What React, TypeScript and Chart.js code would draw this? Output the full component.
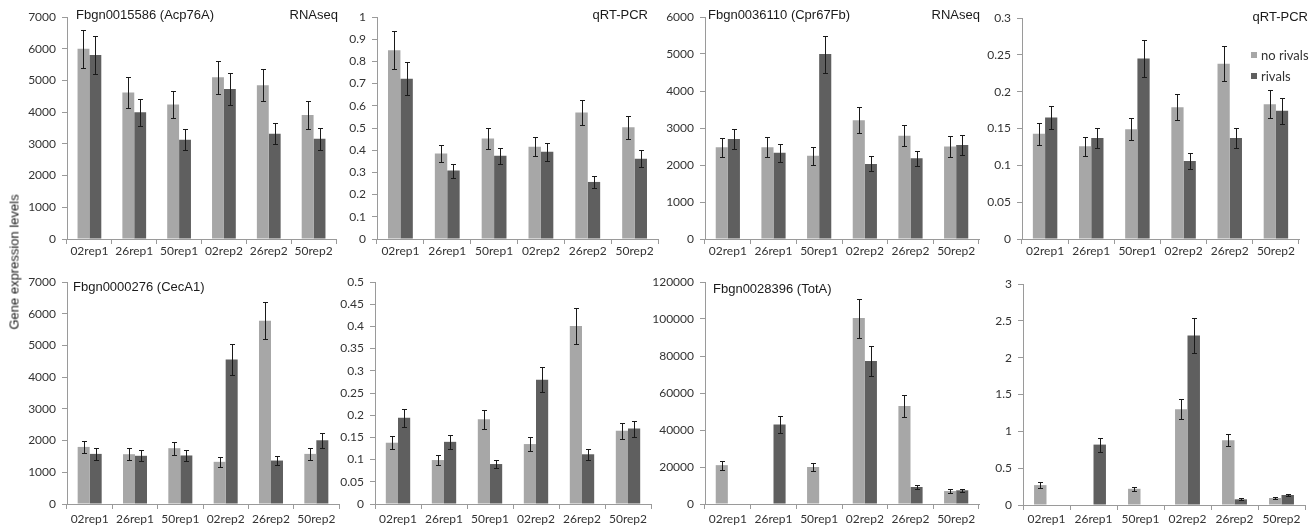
import React, { useEffect, useRef } from 'react';
import { Chart, registerables } from 'chart.js';

Chart.register(...registerables);

// ---------- DATA ----------
const categories = ['02rep1', '26rep1', '50rep1', '02rep2', '26rep2', '50rep2'];
const seriesNames = ['no rivals', 'rivals'];

// Fbgn0015586 (Acp76A) RNAseq
const acpRnaNoRivals = [6000, 4620, 4240, 5100, 4850, 3910];
const acpRnaNoRivalsErr = [600, 480, 440, 520, 500, 430];
const acpRnaRivals = [5800, 4000, 3130, 4730, 3320, 3160];
const acpRnaRivalsErr = [600, 430, 330, 490, 340, 345];

// Acp76A qRT-PCR
const acpPcrNoRivals = [0.85, 0.385, 0.453, 0.415, 0.57, 0.503];
const acpPcrNoRivalsErr = [0.085, 0.04, 0.047, 0.043, 0.058, 0.053];
const acpPcrRivals = [0.722, 0.308, 0.375, 0.393, 0.257, 0.362];
const acpPcrRivalsErr = [0.075, 0.032, 0.037, 0.04, 0.028, 0.037];

// Fbgn0036110 (Cpr67Fb) RNAseq
const cprRnaNoRivals = [2480, 2480, 2250, 3210, 2790, 2500];
const cprRnaNoRivalsErr = [260, 270, 240, 350, 280, 280];
const cprRnaRivals = [2700, 2330, 5000, 2030, 2180, 2540];
const cprRnaRivalsErr = [270, 240, 500, 200, 210, 260];

// Cpr67Fb qRT-PCR
const cprPcrNoRivals = [0.143, 0.126, 0.149, 0.179, 0.238, 0.183];
const cprPcrNoRivalsErr = [0.015, 0.013, 0.015, 0.018, 0.0235, 0.019];
const cprPcrRivals = [0.165, 0.137, 0.245, 0.106, 0.137, 0.174];
const cprPcrRivalsErr = [0.016, 0.014, 0.025, 0.011, 0.013, 0.018];

// Fbgn0000276 (CecA1) RNAseq
const cecRnaNoRivals = [1800, 1570, 1760, 1330, 5780, 1580];
const cecRnaNoRivalsErr = [180, 190, 200, 150, 590, 190];
const cecRnaRivals = [1580, 1520, 1530, 4560, 1370, 2010];
const cecRnaRivalsErr = [200, 170, 160, 480, 140, 230];

// CecA1 qRT-PCR
const cecPcrNoRivals = [0.138, 0.099, 0.191, 0.135, 0.401, 0.165];
const cecPcrNoRivalsErr = [0.015, 0.012, 0.021, 0.016, 0.041, 0.018];
const cecPcrRivals = [0.194, 0.14, 0.09, 0.28, 0.112, 0.17];
const cecPcrRivalsErr = [0.02, 0.015, 0.01, 0.028, 0.013, 0.018];

// Fbgn0028396 (TotA) RNAseq
const totRnaNoRivals = [21000, null, 20000, 100500, 53000, 7000];
const totRnaNoRivalsErr = [2400, 0, 2300, 10500, 6100, 900];
const totRnaRivals = [null, 43000, null, 77300, 9200, 7400];
const totRnaRivalsErr = [0, 4500, 0, 8100, 1300, 900];

// TotA qRT-PCR
const totPcrNoRivals = [0.27, null, 0.22, 1.3, 0.88, 0.095];
const totPcrNoRivalsErr = [0.04, 0, 0.03, 0.135, 0.085, 0.015];
const totPcrRivals = [null, 0.82, null, 2.3, 0.077, 0.136];
const totPcrRivalsErr = [0, 0.095, 0, 0.24, 0.013, 0.018];

// ---------- STYLE ----------
const LIGHT = '#a7a7a7';
const DARK = '#5f5f5f';
const AXIS = '#9a9a9a';
const TICK = '#333333';
const TEXT = '#1a1a1a';
const Y_W = 60;
const X_H = 30;
const PAD_TOP = 17;

type TitleSpec = { text: string; dx: number; dy: number };
type PanelSpec = {
  area: [number, number, number, number];
  padRight: number;
  yMax: number;
  yStep: number;
  light: (number | null)[];
  lightErr: number[];
  dark: (number | null)[];
  darkErr: number[];
  labelPad: number;
  titleL?: TitleSpec;
  titleR?: TitleSpec;
  legend?: boolean;
};

const panels: PanelSpec[] = [
  {
    area: [67, 17, 336, 239], padRight: 4, yMax: 7000, yStep: 1000,
    light: acpRnaNoRivals, lightErr: acpRnaNoRivalsErr, dark: acpRnaRivals, darkErr: acpRnaRivalsErr,
    labelPad: 0,
    titleL: { text: 'Fbgn0015586 (Acp76A)', dx: 9, dy: -2 },
    titleR: { text: 'RNAseq', dx: 2, dy: -2 },
  },
  {
    area: [377, 17, 658, 239], padRight: 2, yMax: 1, yStep: 0.1,
    light: acpPcrNoRivals, lightErr: acpPcrNoRivalsErr, dark: acpPcrRivals, darkErr: acpPcrRivalsErr,
    labelPad: 0,
    titleR: { text: 'qRT-PCR', dx: -10, dy: -2 },
  },
  {
    area: [705, 17, 979, 239], padRight: 3, yMax: 6000, yStep: 1000,
    light: cprRnaNoRivals, lightErr: cprRnaNoRivalsErr, dark: cprRnaRivals, darkErr: cprRnaRivalsErr,
    labelPad: 0,
    titleL: { text: 'Fbgn0036110 (Cpr67Fb)', dx: 3, dy: -2 },
    titleR: { text: 'RNAseq', dx: 1, dy: -2 },
  },
  {
    area: [1022, 18, 1299, 239], padRight: 17, yMax: 0.3, yStep: 0.05,
    light: cprPcrNoRivals, lightErr: cprPcrNoRivalsErr, dark: cprPcrRivals, darkErr: cprPcrRivalsErr,
    labelPad: 0,
    titleR: { text: 'qRT-PCR', dx: 9, dy: -1 },
    legend: true,
  },
  {
    area: [67, 282, 339, 504], padRight: 3, yMax: 7000, yStep: 1000,
    light: cecRnaNoRivals, lightErr: cecRnaNoRivalsErr, dark: cecRnaRivals, darkErr: cecRnaRivalsErr,
    labelPad: 3,
    titleL: { text: 'Fbgn0000276 (CecA1)', dx: 6, dy: 5 },
  },
  {
    area: [375, 282, 651, 504], padRight: 3, yMax: 0.5, yStep: 0.05,
    light: cecPcrNoRivals, lightErr: cecPcrNoRivalsErr, dark: cecPcrRivals, darkErr: cecPcrRivalsErr,
    labelPad: 3,
  },
  {
    area: [705, 282, 979, 504], padRight: 3, yMax: 120000, yStep: 20000,
    light: totRnaNoRivals, lightErr: totRnaNoRivalsErr, dark: totRnaRivals, darkErr: totRnaRivalsErr,
    labelPad: 3,
    titleL: { text: 'Fbgn0028396 (TotA)', dx: 8, dy: 7 },
  },
  {
    area: [1023, 284, 1305, 505], padRight: 5, yMax: 3, yStep: 0.5,
    light: totPcrNoRivals, lightErr: totPcrNoRivalsErr, dark: totPcrRivals, darkErr: totPcrRivalsErr,
    labelPad: 2,
  },
];

const overlayPlugin = {
  id: 'overlay',
  afterDatasetsDraw(chart: any) {
    const ctx = chart.ctx;
    const y = chart.scales.y;
    ctx.save();
    ctx.strokeStyle = '#1a1a1a';
    ctx.lineWidth = 1;
    chart.data.datasets.forEach((ds: any, di: number) => {
      const meta = chart.getDatasetMeta(di);
      meta.data.forEach((el: any, i: number) => {
        const v = ds.data[i];
        if (v == null) return;
        const e = ds.errors[i];
        const top = Math.round(y.getPixelForValue(v + e)) + 0.5;
        const bot = Math.round(y.getPixelForValue(Math.max(v - e, 0))) + 0.5;
        const x = Math.round(el.x) + 0.5;
        ctx.beginPath();
        ctx.moveTo(x, top);
        ctx.lineTo(x, bot);
        ctx.moveTo(x - 2.5, top);
        ctx.lineTo(x + 2.5, top);
        ctx.moveTo(x - 2.5, bot);
        ctx.lineTo(x + 2.5, bot);
        ctx.stroke();
      });
    });
    ctx.restore();
  },
  afterDraw(chart: any, _args: any, opts: any) {
    const ctx = chart.ctx;
    const a = chart.chartArea;
    ctx.save();
    ctx.fillStyle = TEXT;
    ctx.font = '13px "Liberation Sans", Arial, sans-serif';
    ctx.textBaseline = 'middle';
    if (opts.titleL) {
      ctx.textAlign = 'left';
      ctx.fillText(opts.titleL.text, a.left + opts.titleL.dx, a.top + opts.titleL.dy);
    }
    if (opts.titleR) {
      ctx.textAlign = 'right';
      ctx.fillText(opts.titleR.text, a.right + opts.titleR.dx, a.top + opts.titleR.dy);
    }
    if (opts.legend) {
      const colors = [LIGHT, DARK];
      ctx.font = '13px Lato, sans-serif';
      ctx.textAlign = 'left';
      seriesNames.forEach((name, i) => {
        const sx = a.right - 48;
        const sy = a.top + 34 + i * 21;
        ctx.fillStyle = colors[i];
        ctx.fillRect(sx, sy, 6, 6);
        ctx.fillStyle = '#333333';
        ctx.fillText(name, sx + 10, sy + 3.5);
      });
    }
    ctx.restore();
  },
};

const fmt = (v: number) => String(Math.round(v * 10000) / 10000);

function PanelChart({ spec }: { spec: PanelSpec }) {
  const ref = useRef<HTMLCanvasElement>(null);
  const [l, t, r, b] = spec.area;
  const left = l - Y_W;
  const top = t - PAD_TOP;
  const width = Y_W + (r - l) + spec.padRight;
  const height = PAD_TOP + (b - t) + X_H;

  useEffect(() => {
    if (!ref.current) return;
    const chart = new Chart(ref.current, {
      type: 'bar',
      data: {
        labels: categories,
        datasets: [
          {
            label: seriesNames[0],
            data: spec.light,
            errors: spec.lightErr,
            backgroundColor: LIGHT,
            borderWidth: 0,
            categoryPercentage: 0.53,
            barPercentage: 1,
          } as any,
          {
            label: seriesNames[1],
            data: spec.dark,
            errors: spec.darkErr,
            backgroundColor: DARK,
            borderWidth: 0,
            categoryPercentage: 0.53,
            barPercentage: 1,
          } as any,
        ],
      },
      options: {
        responsive: false,
        animation: false,
        events: [],
        layout: { padding: { left: 0, top: PAD_TOP, right: spec.padRight, bottom: 0 } },
        plugins: {
          legend: { display: false },
          tooltip: { enabled: false },
          overlay: { titleL: spec.titleL, titleR: spec.titleR, legend: spec.legend },
        } as any,
        scales: {
          x: {
            type: 'category',
            offset: true,
            grid: { display: true, drawOnChartArea: false, drawTicks: true, tickLength: 5, color: AXIS, offset: true },
            border: { display: true, color: AXIS, width: 1 },
            ticks: {
              color: TICK,
              font: { family: 'Lato, sans-serif', size: 12 },
              padding: spec.labelPad,
              maxRotation: 0,
              autoSkip: false,
            },
            afterFit: (s: any) => { s.height = X_H; },
          },
          y: {
            min: 0,
            max: spec.yMax,
            grid: { display: true, drawOnChartArea: false, drawTicks: true, tickLength: 5, color: AXIS },
            border: { display: true, color: AXIS, width: 1 },
            ticks: {
              stepSize: spec.yStep,
              color: TICK,
              font: { family: 'Lato, sans-serif', size: 12 },
              padding: 6,
              callback: (v: any) => fmt(Number(v)),
            },
            afterFit: (s: any) => { s.width = Y_W; },
          },
        },
      },
      plugins: [overlayPlugin],
    });
    return () => chart.destroy();
  }, [spec]);

  return (
    <canvas
      ref={ref}
      width={width}
      height={height}
      style={{ position: 'absolute', left, top, width, height }}
    />
  );
}

export default function App() {
  return (
    <div
      style={{
        position: 'absolute',
        left: 0,
        top: 0,
        width: 1316,
        height: 531,
        overflow: 'hidden',
        background: '#ffffff',
      }}
    >
      {panels.map((p, i) => (
        <PanelChart key={i} spec={p} />
      ))}
      <div
        style={{
          position: 'absolute',
          left: 14,
          top: 262,
          transform: 'translate(-50%, -50%) rotate(-90deg)',
          whiteSpace: 'nowrap',
          font: '13px "Liberation Sans", Arial, sans-serif',
          color: TEXT,
        }}
      >
        Gene expression levels
      </div>
    </div>
  );
}
